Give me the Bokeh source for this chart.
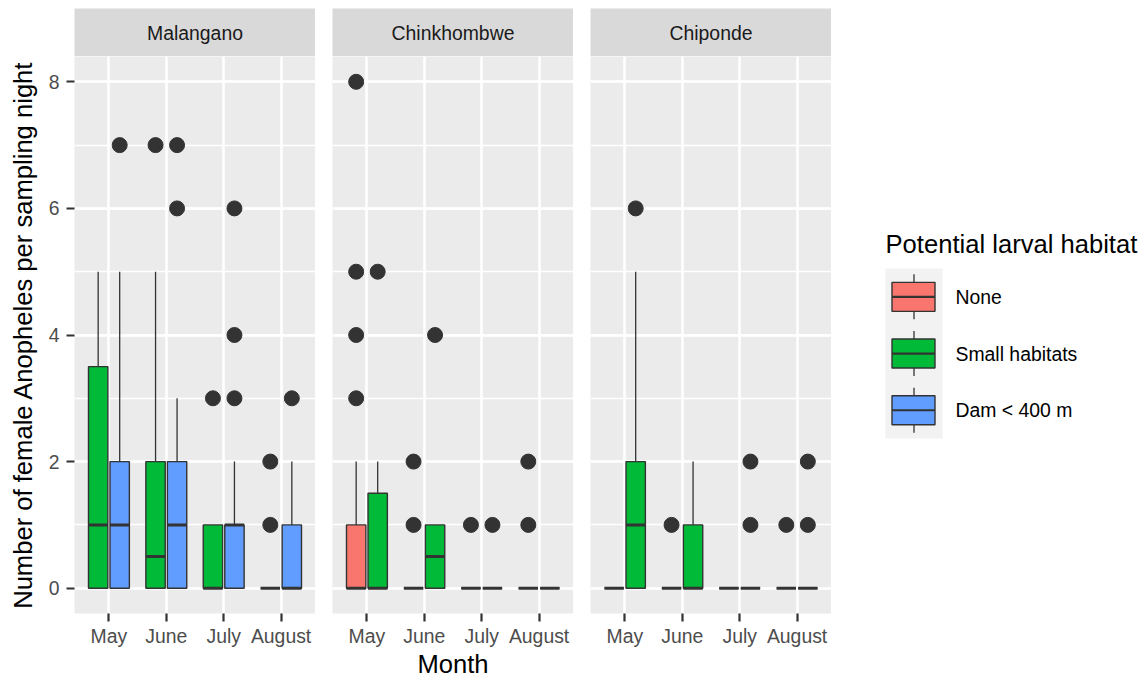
from bokeh.plotting import figure
from bokeh.layouts import row, column
from bokeh.models import FactorRange, Range1d, SingleIntervalTicker, ColumnDataSource
from bokeh.transform import dodge
from bokeh.core.properties import value
from bokeh.embed import file_html
from bokeh.resources import INLINE

FONT = "Liberation Sans"

# ---------------- data ----------------
months = ["May", "June", "July", "August"]
sites = ["Malangano", "Chinkhombwe", "Chiponde"]
habitats = ["None", "Small habitats", "Dam < 400 m"]
habitat_colors = ["#F8766D", "#00BA38", "#619CFF"]

# habitats present in each site panel (left group, right group)
site_habitats = [["Small habitats", "Dam < 400 m"],
                 ["None", "Small habitats"],
                 ["None", "Small habitats"]]

# Malangano: [Small habitats, Dam < 400 m], each per month May..August
mal_q1 = [[0, 0, 0, 0], [0, 0, 0, 0]]
mal_med = [[1, 0.5, 0, 0], [1, 1, 1, 0]]
mal_q3 = [[3.5, 2, 1, 0], [2, 2, 1, 1]]
mal_lo = [[0, 0, 0, 0], [0, 0, 0, 0]]
mal_hi = [[5, 5, 1, 0], [5, 3, 2, 2]]
mal_out = [[[], [7], [3], [1, 2]], [[7], [6, 7], [3, 4, 6], [3]]]

# Chinkhombwe: [None, Small habitats]
chk_q1 = [[0, 0, 0, 0], [0, 0, 0, 0]]
chk_med = [[0, 0, 0, 0], [0, 0.5, 0, 0]]
chk_q3 = [[1, 0, 0, 0], [1.5, 1, 0, 0]]
chk_lo = [[0, 0, 0, 0], [0, 0, 0, 0]]
chk_hi = [[2, 0, 0, 0], [2, 1, 0, 0]]
chk_out = [[[3, 4, 5, 8], [1, 2], [1], [1, 2]], [[5], [4], [1], []]]

# Chiponde: [None, Small habitats]
chp_q1 = [[0, 0, 0, 0], [0, 0, 0, 0]]
chp_med = [[0, 0, 0, 0], [1, 0, 0, 0]]
chp_q3 = [[0, 0, 0, 0], [2, 1, 0, 0]]
chp_lo = [[0, 0, 0, 0], [0, 0, 0, 0]]
chp_hi = [[0, 0, 0, 0], [5, 2, 0, 0]]
chp_out = [[[], [1], [], [1]], [[6], [], [1, 2], [1, 2]]]

site_stats = [
    (mal_q1, mal_med, mal_q3, mal_lo, mal_hi, mal_out),
    (chk_q1, chk_med, chk_q3, chk_lo, chk_hi, chk_out),
    (chp_q1, chp_med, chp_q3, chp_lo, chp_hi, chp_out),
]

y_label = "Number of female Anopheles per sampling night"
x_label = "Month"
legend_title = "Potential larval habitat"

# ---------------- style / layout ----------------
PANEL_BG = "#ebebeb"
STRIP_BG = "#d9d9d9"
DARK = "#333333"
SMALL_FS = "19.4px"
TITLE_FS = "25.6px"
PAGE_W, PAGE_H = 1148, 680
TOP = 8
FRAME_W, FRAME_H = 241, 557
STRIP_H = 48
GAP = 17
LEFT0 = 74
BOTTOM = PAGE_H - TOP - STRIP_H - FRAME_H
DODGE = 0.1875
BOX_W = 0.3375


def make_strip(title, left):
    s = figure(x_range=Range1d(0, 1), y_range=Range1d(0, 1),
               frame_width=FRAME_W, frame_height=STRIP_H,
               min_border_left=left, min_border_right=0,
               min_border_top=TOP, min_border_bottom=0,
               output_backend="svg", toolbar_location=None)
    s.axis.visible = False
    s.grid.visible = False
    s.background_fill_color = STRIP_BG
    s.border_fill_color = "white"
    s.outline_line_color = None
    s.text(x=[0.5], y=[0.5], text=[title], text_align="center",
           text_baseline="middle", text_font=value(FONT),
           text_font_size=SMALL_FS, text_color="#1a1a1a")
    return s


def make_panel(idx):
    first = idx == 0
    q1, med, q3, lo, hi, out = site_stats[idx]
    xr = FactorRange(factors=months, range_padding=0.1,
                     range_padding_units="absolute")
    p = figure(x_range=xr, y_range=Range1d(-0.4, 8.4),
               frame_width=FRAME_W, frame_height=FRAME_H,
               min_border_left=LEFT0 if first else GAP, min_border_right=0,
               min_border_top=0, min_border_bottom=BOTTOM,
               output_backend="svg", toolbar_location=None)
    p.background_fill_color = PANEL_BG
    p.border_fill_color = "white"
    p.outline_line_color = None

    ticker = SingleIntervalTicker(interval=2, num_minor_ticks=2)
    p.yaxis.ticker = ticker
    p.ygrid.ticker = ticker
    p.ygrid.grid_line_color = "white"
    p.ygrid.grid_line_width = 2.6
    p.ygrid.minor_grid_line_color = "white"
    p.ygrid.minor_grid_line_width = 1.3
    p.xgrid.grid_line_color = "white"
    p.xgrid.grid_line_width = 2.6

    for ax in (p.xaxis, p.yaxis):
        ax.axis_line_color = None
        ax.major_tick_in = 0
        ax.major_tick_out = 8
        ax.major_tick_line_color = DARK
        ax.major_tick_line_width = 2.2
        ax.minor_tick_line_color = None
        ax.major_label_text_font = FONT
        ax.major_label_text_font_size = SMALL_FS
        ax.major_label_text_color = "#4d4d4d"
        ax.axis_label_text_font = FONT
        ax.axis_label_text_font_size = TITLE_FS
        ax.axis_label_text_font_style = "normal"
        ax.axis_label_text_color = "black"
    p.xaxis.major_label_standoff = 3
    p.xaxis.axis_label_standoff = 0
    p.yaxis.major_label_standoff = 7
    p.yaxis.axis_label_standoff = 9

    if first:
        p.yaxis.axis_label = y_label
    else:
        p.yaxis.visible = False
    if idx == 1:
        p.xaxis.axis_label = x_label

    offsets = [-DODGE, DODGE]
    for g, hab in enumerate(site_habitats[idx]):
        color = habitat_colors[habitats.index(hab)]
        off = offsets[g]
        src = ColumnDataSource(dict(month=months, q1=q1[g], med=med[g],
                                    q3=q3[g], lo=lo[g], hi=hi[g]))
        xc = dodge("month", off, range=xr)
        p.segment(x0=xc, y0="q3", x1=xc, y1="hi", source=src,
                  line_color=DARK, line_width=1.3)
        p.segment(x0=xc, y0="q1", x1=xc, y1="lo", source=src,
                  line_color=DARK, line_width=1.3)
        p.vbar(x=xc, width=BOX_W, bottom="q1", top="q3", source=src,
               fill_color=color, line_color=DARK, line_width=1.4)
        p.segment(x0=dodge("month", off - BOX_W / 2, range=xr), y0="med",
                  x1=dodge("month", off + BOX_W / 2, range=xr), y1="med",
                  source=src, line_color=DARK, line_width=3, line_cap="butt")
        om = [m for m, o in zip(months, out[g]) for _ in o]
        oy = [v for o in out[g] for v in o]
        osrc = ColumnDataSource(dict(month=om, y=oy))
        p.scatter(x=xc, y="y", source=osrc, size=15,
                  fill_color=DARK, line_color=DARK)
    return p


cols = []
for i, site in enumerate(sites):
    left = LEFT0 if i == 0 else GAP
    cols.append(column(make_strip(site, left), make_panel(i)))

# ---------------- legend (drawn in page pixel coordinates) ----------------
LEG_X0 = LEFT0 + 3 * FRAME_W + 2 * GAP
LEG_W = PAGE_W - LEG_X0
leg = figure(x_range=Range1d(LEG_X0, PAGE_W),
             y_range=Range1d(PAGE_H, 0),
             frame_width=LEG_W, frame_height=PAGE_H,
             min_border_left=0, min_border_right=0,
             min_border_top=0, min_border_bottom=0,
             output_backend="svg", toolbar_location=None)
leg.axis.visible = False
leg.grid.visible = False
leg.background_fill_color = "white"
leg.border_fill_color = "white"
leg.outline_line_color = None

KEY_L, KEY_R, KEY_TOP, KEY_H = 885, 942, 268, 56.7
leg.text(x=[KEY_L], y=[243], text=[legend_title], text_align="left",
         text_baseline="middle", text_font=value(FONT),
         text_font_size=TITLE_FS, text_color="black")
n = len(habitats)
leg.quad(left=[KEY_L], right=[KEY_R], top=[KEY_TOP],
         bottom=[KEY_TOP + n * KEY_H], fill_color="#f2f2f2", line_color=None)
cys = [KEY_TOP + KEY_H * (i + 0.5) for i in range(n)]
xm = (KEY_L + KEY_R) / 2
bh = 14.5
leg.segment(x0=[xm] * n, x1=[xm] * n, y0=[c - 22.5 for c in cys],
            y1=[c + 22.5 for c in cys], line_color=DARK, line_width=1.3)
leg.quad(left=[KEY_L + 6.5] * n, right=[KEY_R - 7.5] * n,
         top=[c - bh for c in cys], bottom=[c + bh for c in cys],
         fill_color=habitat_colors, line_color=DARK, line_width=1.4)
leg.segment(x0=[KEY_L + 6.5] * n, x1=[KEY_R - 7.5] * n, y0=cys, y1=cys,
            line_color=DARK, line_width=2.2)
leg.text(x=[955] * n, y=cys, text=habitats, text_align="left",
         text_baseline="middle", text_font=value(FONT),
         text_font_size=SMALL_FS, text_color="black")

layout = row(*cols, leg)
open("out.html", "w").write(file_html(layout, INLINE))
